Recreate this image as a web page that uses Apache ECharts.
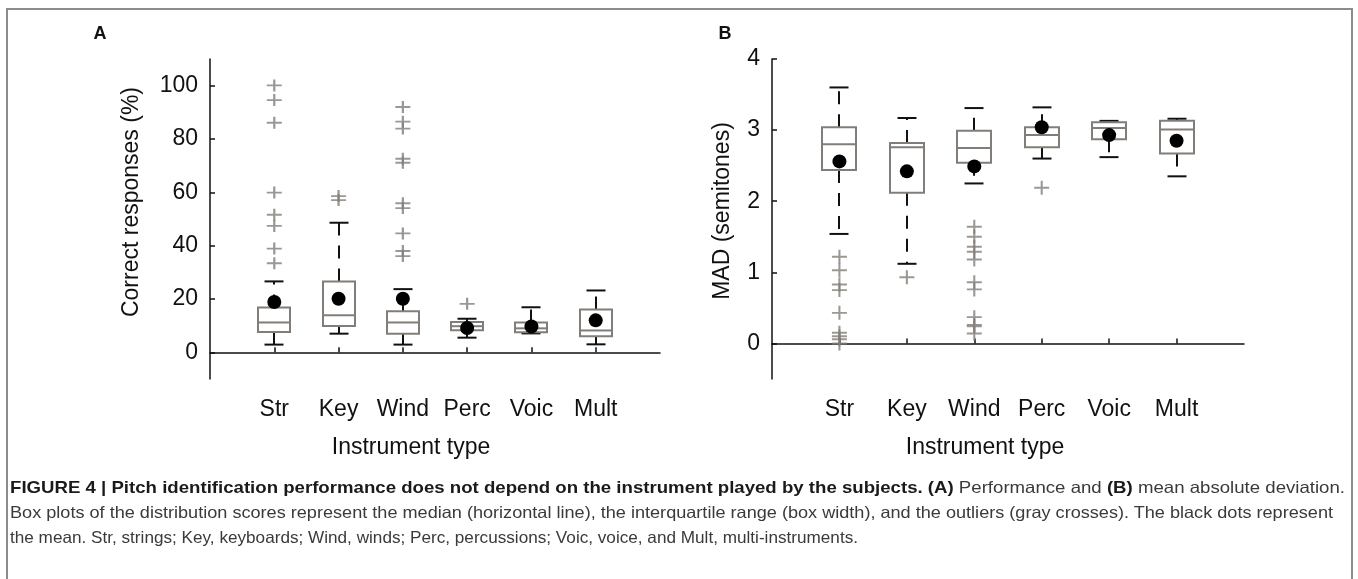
<!DOCTYPE html>
<html>
<head>
<meta charset="utf-8">
<script src="https://cdn.jsdelivr.net/npm/echarts@6/dist/echarts.min.js"></script>
<style>
  html, body { margin: 0; padding: 0; background: #fff; }
  #wrap { position: relative; width: 1358px; height: 579px; overflow: hidden; }
  #chart { position: absolute; left: 0; top: 0; width: 1358px; height: 579px; }
  #frame { position: absolute; left: 6px; top: 8px; width: 1347px; height: 600px;
           border: 2px solid #8c8c8c; box-sizing: border-box; pointer-events: none; }
  .cap { position: absolute; left: 10px; white-space: nowrap; transform-origin: 0 50%;
         font-family: "Liberation Sans Narrow", "Liberation Sans", Arial, sans-serif;
         font-size: 16.5px; color: #3a3a3a; line-height: 18px; }
  .cap b { color: #1a1a1a; }
</style>
</head>
<body>
<div id="wrap">
  <div id="chart"></div>
  <div id="frame"></div>
  <div class="cap" id="cap1" style="top:478px"><b>FIGURE 4 | Pitch identification performance does not depend on the instrument played by the subjects. (A)</b> Performance and <b>(B)</b> mean absolute deviation.</div>
  <div class="cap" id="cap2" style="top:503px">Box plots of the distribution scores represent the median (horizontal line), the interquartile range (box width), and the outliers (gray crosses). The black dots represent</div>
  <div class="cap" id="cap3" style="top:528px">the mean. Str, strings; Key, keyboards; Wind, winds; Perc, percussions; Voic, voice, and Mult, multi-instruments.</div>
</div>
<script>
const categories = ['Str', 'Key', 'Wind', 'Perc', 'Voic', 'Mult'];

// Panel A: correct responses (%) -> [low whisker, q1, median, q3, high whisker]
const boxA = [
  [2.9, 7.6, 11.2, 16.8, 26.6],
  [7.0, 9.9, 13.9, 26.6, 48.6],
  [2.9, 7.0, 11.2, 15.4, 23.7],
  [5.5, 8.3, 9.8, 11.4, 12.6],
  [7.1, 7.5, 9.0, 11.2, 16.9],
  [3.0, 6.0, 8.2, 16.1, 23.2]
];
const meanA = [18.9, 20.1, 20.1, 9.1, 9.7, 12.0];
const outliersA = [
  [100.1, 94.6, 86.1, 59.9, 51.6, 47.4, 38.9, 33.4],
  [58.6, 57.1],
  [92.0, 86.5, 83.9, 72.6, 71.1, 55.9, 54.1, 44.6, 38.0, 36.1],
  [18.2],
  [],
  []
];

// Panel B: MAD (semitones)
const boxB = [
  [1.54, 2.44, 2.80, 3.04, 3.60],
  [1.12, 2.12, 2.76, 2.82, 3.17],
  [2.25, 2.54, 2.75, 2.99, 3.31],
  [2.60, 2.76, 2.93, 3.04, 3.32],
  [2.62, 2.87, 3.03, 3.11, 3.13],
  [2.35, 2.67, 3.01, 3.13, 3.16]
];
const meanB = [2.56, 2.42, 2.49, 3.04, 2.93, 2.85];
const outliersB = [
  [1.22, 1.03, 0.83, 0.75, 0.43, 0.15, 0.10, 0.06, 0.0],
  [0.93],
  [1.64, 1.50, 1.36, 1.29, 1.18, 0.86, 0.76, 0.37, 0.26, 0.24, 0.14],
  [2.19],
  [],
  []
];

const yTicksA = [0, 20, 40, 60, 80, 100];
const yTicksB = [0, 1, 2, 3, 4];

const GRAY = '#827d78';
const BLACK = '#111';
const FONT = '"Liberation Sans", Arial, sans-serif';
const catPos = categories.map((c, i) => i + 1);

function boxRenderer(half) {
  return function (params, api) {
    const x = api.value(0);
    const lo = api.coord([x, api.value(1)]);
    const q1 = api.coord([x, api.value(2)]);
    const md = api.coord([x, api.value(3)]);
    const q3 = api.coord([x, api.value(4)]);
    const hi = api.coord([x, api.value(5)]);
    const cx = Math.round(lo[0]);
    const cap = 9.5;
    const dash = { stroke: BLACK, lineWidth: 2, lineDash: [13, 10] };
    const solid = { stroke: BLACK, lineWidth: 2 };
    return {
      type: 'group',
      children: [
        { type: 'line', shape: { x1: cx, y1: q3[1], x2: cx, y2: hi[1] }, style: dash },
        { type: 'line', shape: { x1: cx, y1: q1[1], x2: cx, y2: lo[1] }, style: dash },
        { type: 'line', shape: { x1: cx - cap, y1: hi[1], x2: cx + cap, y2: hi[1] }, style: solid },
        { type: 'line', shape: { x1: cx - cap, y1: lo[1], x2: cx + cap, y2: lo[1] }, style: solid },
        { type: 'rect', shape: { x: cx - half, y: q3[1], width: half * 2, height: q1[1] - q3[1] },
          style: { fill: '#fff', stroke: GRAY, lineWidth: 2 } },
        { type: 'line', shape: { x1: cx - half, y1: md[1], x2: cx + half, y2: md[1] },
          style: { stroke: GRAY, lineWidth: 2 } }
      ]
    };
  };
}

function xAxis(gridIndex) {
  return {
    type: 'value', gridIndex, min: 0, max: 7,
    axisLine: { lineStyle: { color: BLACK, width: 1.5 } },
    axisTick: { inside: true, length: 5, customValues: catPos, lineStyle: { color: BLACK, width: 1.5 } },
    axisLabel: { customValues: catPos, margin: 19, color: BLACK, fontSize: 23, fontFamily: FONT,
                 formatter: v => categories[v - 1] || '' },
    splitLine: { show: false }
  };
}

function yAxis(gridIndex, min, max, ticks) {
  return {
    type: 'value', gridIndex, min, max,
    axisLine: { show: true, lineStyle: { color: BLACK, width: 1.5 } },
    axisTick: { show: true, inside: true, length: 5, customValues: ticks, lineStyle: { color: BLACK, width: 1.5 } },
    axisLabel: { customValues: ticks, margin: 12, color: BLACK, fontSize: 23, fontFamily: FONT },
    splitLine: { show: false }
  };
}

function seriesFor(idx, boxes, means, outliers, half, plusSize) {
  return [
    {
      type: 'custom', xAxisIndex: idx, yAxisIndex: idx,
      renderItem: boxRenderer(half),
      encode: { x: 0, y: [1, 2, 3, 4, 5] },
      data: boxes.map((b, i) => [i + 1].concat(b)),
      z: 2
    },
    {
      type: 'scatter', xAxisIndex: idx, yAxisIndex: idx,
      symbol: 'path://M0,5H10M5,0V10', symbolSize: plusSize,
      itemStyle: { color: 'rgba(0,0,0,0)', borderColor: GRAY, borderWidth: 2 },
      data: outliers.flatMap((arr, i) => arr.map(v => [i + 1, v])),
      silent: true, z: 3
    },
    {
      type: 'scatter', xAxisIndex: idx, yAxisIndex: idx,
      symbol: 'circle', symbolSize: 14,
      itemStyle: { color: '#000', opacity: 1 },
      data: means.map((v, i) => [i + 1, v]),
      silent: true, z: 4
    }
  ];
}

const chart = echarts.init(document.getElementById('chart'));
chart.setOption({
  animation: false,
  grid: [
    { left: 210, top: 59, width: 450, height: 320 },
    { left: 772, top: 59, width: 472, height: 320 }
  ],
  xAxis: [xAxis(0), xAxis(1)],
  yAxis: [yAxis(0, -10, 110, yTicksA), yAxis(1, -0.5, 4, yTicksB)],
  graphic: [
    { type: 'text', x: 100, y: 34, style: { text: 'A', font: 'bold 18px ' + FONT, fill: BLACK, align: 'center', verticalAlign: 'middle' } },
    { type: 'text', x: 725, y: 34, style: { text: 'B', font: 'bold 18px ' + FONT, fill: BLACK, align: 'center', verticalAlign: 'middle' } },
    { type: 'text', x: 132, y: 202, rotation: Math.PI / 2,
      style: { text: 'Correct responses (%)', font: '23px ' + FONT, fill: BLACK, align: 'center', verticalAlign: 'middle' } },
    { type: 'text', x: 723, y: 211, rotation: Math.PI / 2,
      style: { text: 'MAD (semitones)', font: '23px ' + FONT, fill: BLACK, align: 'center', verticalAlign: 'middle' } },
    { type: 'text', x: 411, y: 448,
      style: { text: 'Instrument type', font: '23px ' + FONT, fill: BLACK, align: 'center', verticalAlign: 'middle' } },
    { type: 'text', x: 985, y: 448,
      style: { text: 'Instrument type', font: '23px ' + FONT, fill: BLACK, align: 'center', verticalAlign: 'middle' } }
  ],
  series: seriesFor(0, boxA, meanA, outliersA, 16, [15, 12])
    .concat(seriesFor(1, boxB, meanB, outliersB, 17, [15, 14]))
});

// stretch each caption line to the reference's line width
function fit(id, target) {
  const el = document.getElementById(id);
  const s = target / el.getBoundingClientRect().width;
  el.style.transform = 'scaleX(' + s + ')';
}
fit('cap1', 1335);
fit('cap2', 1323);
fit('cap3', 848);
</script>
</body>
</html>
